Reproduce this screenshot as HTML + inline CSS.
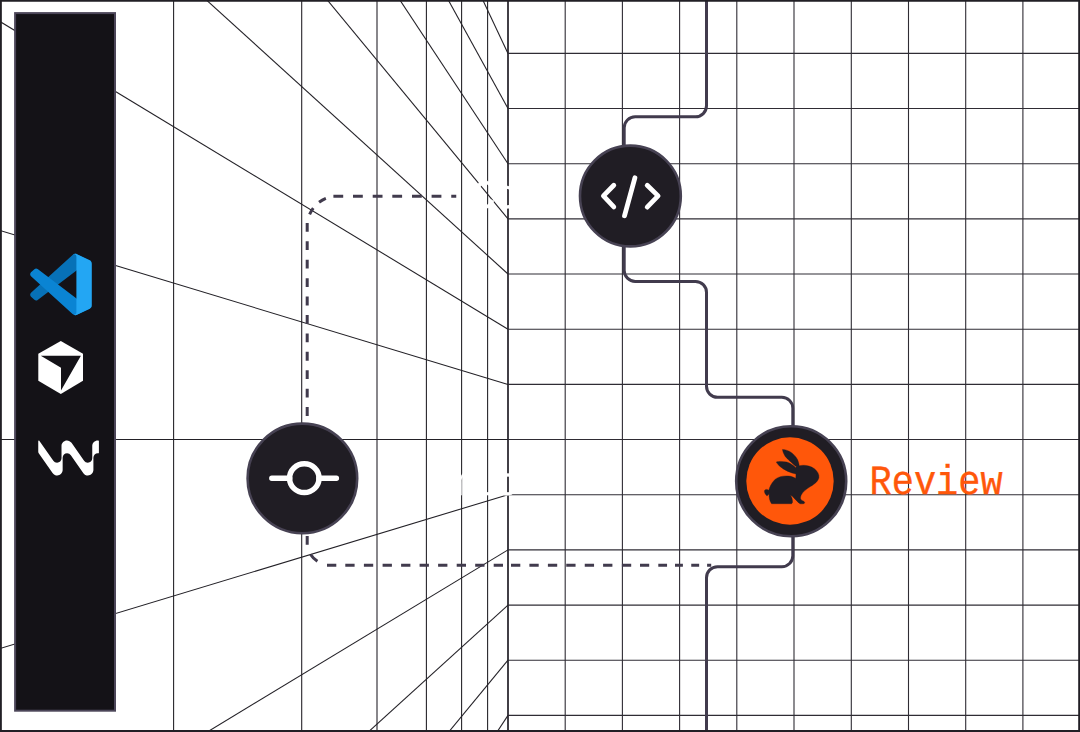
<!DOCTYPE html>
<html><head><meta charset="utf-8"><title>Review flow</title>
<style>html,body{margin:0;padding:0;background:#fff;width:1080px;height:732px;overflow:hidden}svg{display:block}text{font-family:"Liberation Mono",monospace;-webkit-font-smoothing:antialiased;text-rendering:geometricPrecision}</style>
</head><body>
<svg width="1080" height="732" viewBox="0 0 1080 732">
<rect width="1080" height="732" fill="#fff"/>
<g stroke="#2f2c34" stroke-width="1.1" fill="none">
<line x1="508.0" y1="0" x2="508.0" y2="732"/>
<line x1="565.2" y1="0" x2="565.2" y2="732"/>
<line x1="622.4" y1="0" x2="622.4" y2="732"/>
<line x1="679.6" y1="0" x2="679.6" y2="732"/>
<line x1="736.8" y1="0" x2="736.8" y2="732"/>
<line x1="794.0" y1="0" x2="794.0" y2="732"/>
<line x1="851.3" y1="0" x2="851.3" y2="732"/>
<line x1="908.5" y1="0" x2="908.5" y2="732"/>
<line x1="965.7" y1="0" x2="965.7" y2="732"/>
<line x1="1022.9" y1="0" x2="1022.9" y2="732"/>
<line x1="508.0" y1="53.4" x2="1080" y2="53.4"/>
<line x1="508.0" y1="108.5" x2="1080" y2="108.5"/>
<line x1="508.0" y1="163.7" x2="1080" y2="163.7"/>
<line x1="508.0" y1="218.9" x2="1080" y2="218.9"/>
<line x1="508.0" y1="274.0" x2="1080" y2="274.0"/>
<line x1="508.0" y1="329.2" x2="1080" y2="329.2"/>
<line x1="508.0" y1="384.4" x2="1080" y2="384.4"/>
<line x1="508.0" y1="439.5" x2="1080" y2="439.5"/>
<line x1="508.0" y1="494.7" x2="1080" y2="494.7"/>
<line x1="508.0" y1="549.9" x2="1080" y2="549.9"/>
<line x1="508.0" y1="605.1" x2="1080" y2="605.1"/>
<line x1="508.0" y1="660.2" x2="1080" y2="660.2"/>
<line x1="508.0" y1="715.4" x2="1080" y2="715.4"/>
</g>
<line x1="508.0" y1="0" x2="508.0" y2="732" stroke="#2f2c34" stroke-width="1.6"/>
<g stroke="#232127" stroke-width="1.08" fill="none">
<line x1="173.6" y1="0" x2="173.6" y2="732"/>
<line x1="301.7" y1="0" x2="301.7" y2="732"/>
<line x1="377.0" y1="0" x2="377.0" y2="732"/>
<line x1="426.4" y1="0" x2="426.4" y2="732"/>
<line x1="461.6" y1="0" x2="461.6" y2="732"/>
<line x1="487.6" y1="0" x2="487.6" y2="732"/>
<line x1="508.0" y1="-112.2" x2="0" y2="-1650.4"/>
<line x1="508.0" y1="-57.0" x2="0" y2="-1441.4"/>
<line x1="508.0" y1="-1.8" x2="0" y2="-1232.4"/>
<line x1="508.0" y1="53.4" x2="0" y2="-1023.4"/>
<line x1="508.0" y1="108.5" x2="0" y2="-814.4"/>
<line x1="508.0" y1="163.7" x2="0" y2="-605.4"/>
<line x1="508.0" y1="218.9" x2="0" y2="-396.5"/>
<line x1="508.0" y1="274.0" x2="0" y2="-187.5"/>
<line x1="508.0" y1="329.2" x2="0" y2="21.5"/>
<line x1="508.0" y1="384.4" x2="0" y2="230.5"/>
<line x1="508.0" y1="439.5" x2="0" y2="439.5"/>
<line x1="508.0" y1="494.7" x2="0" y2="648.5"/>
<line x1="508.0" y1="549.9" x2="0" y2="857.5"/>
<line x1="508.0" y1="605.1" x2="0" y2="1066.5"/>
<line x1="508.0" y1="660.2" x2="0" y2="1275.5"/>
<line x1="508.0" y1="715.4" x2="0" y2="1484.5"/>
<line x1="508.0" y1="770.6" x2="0" y2="1693.5"/>
<line x1="508.0" y1="825.7" x2="0" y2="1902.5"/>
<line x1="508.0" y1="880.9" x2="0" y2="2111.4"/>
<line x1="508.0" y1="936.1" x2="0" y2="2320.4"/>
</g>
<path d="M333.40 196.2h9.8M353.00 196.2h9.8M372.70 196.2h9.8M392.30 196.2h9.8M412.00 196.2h9.8M431.60 196.2h9.8M451.25 196.2h5.0M309.61 214.43A30.0 30.0 0 0 1 313.27 208.10M319.06 202.31A30.0 30.0 0 0 1 325.87 198.42M307.2 222.90v8.8M307.2 241.32v8.8M307.2 259.74v8.8M307.2 278.16v8.8M307.2 296.58v8.8M307.2 315.00v8.8M307.2 333.42v8.8M307.2 351.84v8.8M307.2 370.26v8.8M307.2 388.68v8.8M307.2 407.10v8.8M307.2 425.52v8.8M307.2 443.94v8.8M307.2 462.36v8.8M307.2 480.78v8.8M307.2 499.20v8.8M307.2 517.62v8.8M307.2 536.04v8.8M310.64 554.45A22.5 22.5 0 0 0 317.43 561.36M327.00 565.2h9.3M345.30 565.2h9.3M363.90 565.2h9.3M382.60 565.2h9.3M401.10 565.2h9.3M419.60 565.2h9.3M438.10 565.2h9.3M456.70 565.2h9.3M475.20 565.2h9.3M493.70 565.2h9.3M511.00 565.2h9.3M529.40 565.2h9.3M547.90 565.2h9.3M566.25 565.2h9.3M584.75 565.2h9.3M603.10 565.2h9.3M621.90 565.2h9.3M640.00 565.2h9.2M658.30 565.2h8.75M675.00 565.2h7.9M691.25 565.2h7.9M707.10 565.2h4.1" fill="none" stroke="#413b4d" stroke-width="3"/>
<g opacity="0.999">
<text transform="translate(473.3 207.9) scale(1 1.1)" font-size="37.2" fill="#fff" stroke="#fff" stroke-width="0.35">Code</text>
<text transform="translate(381.8 494.6) scale(1 1.1)" font-size="37.2" fill="#fff" stroke="#fff" stroke-width="0.35">Commit</text>
</g>
<path d="M706.5 0 V105.8 a11 11 0 0 1 -11 11 H635.2 a11 11 0 0 0 -11 11 V270.4 a11 11 0 0 0 11 11 H695.5 a11 11 0 0 1 11 11 V386.3 a11 11 0 0 0 11 11 H781.8 a11 11 0 0 1 11 11 V555.7 a11 11 0 0 1 -11 11 H717.5 a11 11 0 0 0 -11 11 V732" fill="none" stroke="#413b4d" stroke-width="3"/>
<circle cx="630.4" cy="196" r="50.4" fill="#201d24" stroke="#474253" stroke-width="2.6"/>
<g fill="none" stroke="#fff" stroke-width="4.8" stroke-linecap="round" stroke-linejoin="round"><path d="M613.8 185.3 L603.4 195.9 L613.8 206.9"/><path d="M634.9 177.8 L624.5 215.8"/><path d="M647.2 185.3 L658.1 195.9 L647.2 207.1"/></g>
<circle cx="302.4" cy="478.4" r="54.8" fill="#201d24" stroke="#474253" stroke-width="2.6"/>
<g fill="none" stroke="#fff" stroke-linecap="round"><ellipse cx="304.3" cy="478.2" rx="14.7" ry="14.35" stroke-width="5.5"/><path d="M271.8 478.3 H289.7 M318.9 478.3 H336.4" stroke-width="5.4"/></g>
<circle cx="791.2" cy="481.3" r="55.0" fill="#201d24" stroke="#474253" stroke-width="2.6"/>
<circle cx="790" cy="481" r="43.7" fill="#ff570a"/>
<g transform="translate(755 440) scale(0.10246)" fill="#201d24" stroke="#201d24" stroke-width="3.5" stroke-linejoin="round">
<path d="M268 92 C330 95 385 135 415 190 C425 215 430 235 432 252 C470 242 530 245 580 280 C610 305 628 335 624 365 C618 400 585 428 540 455 C500 480 465 505 450 540 C440 565 442 580 458 590 C475 595 488 605 484 615 C480 624 455 624 440 622 C420 610 395 580 375 560 C365 550 352 542 345 540 C360 560 368 585 366 605 C365 618 360 622 352 622 L162 622 C145 600 133 560 138 520 C135 530 125 545 115 545 C100 530 88 505 93 492 C100 480 120 478 135 490 C142 460 160 420 195 385 C235 352 300 345 350 355 C370 360 385 368 397 376 C399 362 400 345 400 332 C350 322 290 297 240 255 C225 240 212 225 208 215 C225 207 270 207 310 215 C345 225 378 250 398 272 C400 268 402 264 404 262 C360 222 315 185 295 160 C280 135 270 110 268 92 Z"/>
</g>
<g opacity="0.999"><text transform="translate(869.5 494.2) scale(1 1.12)" font-size="37" fill="#ff570a" stroke="#ff570a" stroke-width="0.35">Review</text></g>
<rect x="14.1" y="12.1" width="101.9" height="699.6" fill="#4c4659"/>
<rect x="16.1" y="14.1" width="97.9" height="695.6" fill="#141217"/>
<g transform="translate(30.2 253.7) scale(0.616)">
<path d="M96.4614 10.7962L75.8569 0.875542C73.4719 -0.272773 70.6217 0.211611 68.75 2.08333L1.29858 63.5832C-0.515693 65.2373 -0.513607 68.0937 1.30308 69.7452L6.81272 74.754C8.29793 76.1042 10.5347 76.2036 12.1338 74.9905L93.3609 13.3699C96.086 11.3026 100 13.2462 100 16.6667V16.4275C100 14.0265 98.6246 11.8378 96.4614 10.7962Z" fill="#0771b7"/>
<path d="M96.4614 89.2038L75.8569 99.1245C73.4719 100.273 70.6217 99.7884 68.75 97.9167L1.29858 36.4169C-0.515693 34.7627 -0.513607 31.9063 1.30308 30.2548L6.81272 25.246C8.29793 23.8958 10.5347 23.7964 12.1338 25.0095L93.3609 86.6301C96.086 88.6974 100 86.7538 100 83.3334V83.5726C100 85.9735 98.6246 88.1622 96.4614 89.2038Z" fill="#0a84d3"/>
<path d="M75.8578 99.1263C73.4721 100.274 70.6219 99.7885 68.75 97.9166C71.0564 100.223 75 98.5895 75 95.3278V4.67213C75 1.41039 71.0564 -0.223106 68.75 2.08329C70.6219 0.211402 73.4721 -0.273666 75.8578 0.873633L96.4587 10.7807C98.6234 11.8217 100 14.0112 100 16.4132V83.5871C100 85.9891 98.6234 88.1786 96.4586 89.2196L75.8578 99.1263Z" fill="#23a6f3"/>
</g>
<polygon points="60.8,340.9 83,353.8 83,380.8 60.8,393.9 38.3,380.8 38.3,353.8" fill="#fff"/>
<polygon points="40.8,355.7 80.9,355.7 61,390.6 61,367.7" fill="#141217"/>
<g transform="translate(38.25 427.7) scale(2.527)"><path fill="#fff" d="M23.55 5.067c-1.2038-.002-2.1806.973-2.1806 2.1765v4.8676c0 .972-.8035 1.7594-1.7597 1.7594-.568 0-1.1352-.286-1.4718-.7659l-4.9713-7.1003c-.4125-.5896-1.0837-.941-1.8103-.941-1.1334 0-2.1533.9635-2.1533 2.153v4.8957c0 .972-.7969 1.7594-1.7596 1.7594-.57 0-1.1363-.286-1.4728-.7658L.4076 5.1598C.2822 4.9798 0 5.0688 0 5.2882v4.2452c0 .2147.0656.4228.1884.599l5.4748 7.8183c.3234.462.8006.8052 1.3509.9298 1.3771.313 2.6446-.747 2.6446-2.0977v-4.893c0-.972.7875-1.7593 1.7596-1.7593h.003a1.798 1.798 0 0 1 1.4718.7658l4.9723 7.0994c.4135.5905 1.05.941 1.8093.941 1.1587 0 2.1515-.9645 2.1515-2.153v-4.8948c0-.972.7875-1.7594 1.7596-1.7594h.194a.22.22 0 0 0 .2204-.2202v-4.622a.22.22 0 0 0-.2203-.2203Z"/></g>
<path d="M0 0H1080V732H0Z M1.85 1.85V730.1H1078.2V1.85Z" fill="#211f25" fill-rule="evenodd"/>
</svg></body></html>
